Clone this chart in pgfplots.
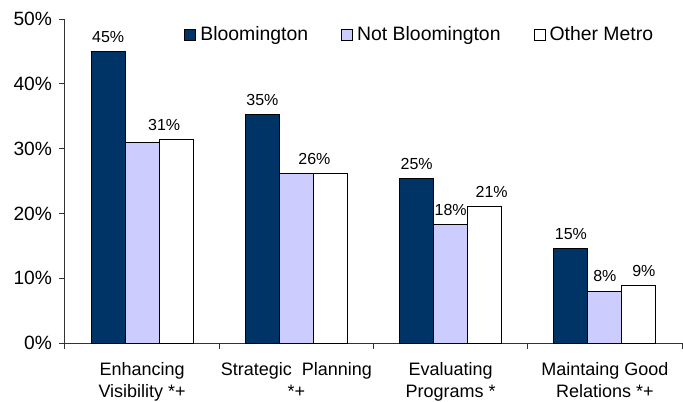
\documentclass[border=0pt]{standalone}
\usepackage{pgfplots}
\usepackage{pgfplotstable}
\pgfplotsset{compat=1.18}
\usepackage{fontspec}
\setmainfont{Liberation Sans}
\definecolor{navy}{RGB}{0,51,102}
\definecolor{lav}{RGB}{204,204,255}

\pgfplotstableread{
x y
0 45.0
1 35.2
2 25.4
3 14.6
}\bloom
\pgfplotstableread{
x y
0 31.0
1 26.1
2 18.3
3 8.0
}\notbloom
\pgfplotstableread{
x y
0 31.4
1 26.1
2 21.1
3 8.8
}\othermetro
\pgfplotstableread{
x y
2 18.3
3 8.0
}\notbloomlab
\pgfplotstableread{
x y dx
0 31.4 -6
1 26.1 -8
2 21.1 3.5
3 8.8 2.5
}\otherlab

\begin{document}
\begin{tikzpicture}
\useasboundingbox (-32.5pt,-29pt) rectangle (309pt,171.5pt);
\begin{axis}[
  at={(0,0)}, anchor=south west,
  scale only axis, width=308.5pt, height=162pt,
  xmin=-0.5, xmax=3.5, ymin=0, ymax=50,
  axis lines=left, axis line style={-, black!80, line width=0.5pt},
  ybar, bar width=17pt,
  xtick={-0.5,0.5,1.5,2.5,3.5}, x tick label as interval,
  xticklabels={{Enhancing\\Visibility *+},{Strategic~~Planning\\*+},{Evaluating\\Programs *},{Maintaing Good\\Relations *+}},
  x tick label style={align=center, font=\fontsize{9}{11}\selectfont, yshift=-3pt},
  ytick={0,10,20,30,40,50},
  yticklabel={\pgfmathprintnumber{\tick}\%},
  y tick label style={font=\fontsize{9.6}{11}\selectfont},
  /pgf/number format/assume math mode=true,
  tick align=outside, major tick length=3pt,
  tick style={black!80, line width=0.5pt},
  nodes near coords={\pgfmathprintnumber[fixed,precision=0]{\pgfplotspointmeta}\%},
  nodes near coords style={font=\fontsize{8}{9.6}\selectfont, anchor=south, yshift=1pt, text=black},
  legend image code/.code={\draw[#1] (0pt,-2.75pt) rectangle (5.5pt,2.75pt);},
  legend style={at={(0.183,0.951)}, anchor=west, draw=none, fill=none,
    legend columns=-1, font=\fontsize{9.7}{11}\selectfont,
    /tikz/every even column/.append style={column sep=14.5pt}},
]
\addplot[bar shift=-17pt, fill=navy, draw=black, line width=0.5pt] table[x=x,y=y] {\bloom};
\addplot[bar shift=0pt, fill=lav, draw=black, line width=0.5pt, nodes near coords={}] table[x=x,y=y] {\notbloom};
\addplot[bar shift=17pt, fill=white, draw=black, line width=0.5pt, nodes near coords={}] table[x=x,y=y] {\othermetro};
\addplot[bar shift=0pt, draw=none, fill=none, forget plot] table[x=x,y=y] {\notbloomlab};
\addplot[bar shift=17pt, draw=none, fill=none, forget plot,
  visualization depends on={\thisrow{dx} \as \dx},
  every node near coord/.append style={xshift=\dx*1pt}] table[x=x,y=y] {\otherlab};
\legend{Bloomington, Not Bloomington, Other Metro}
\end{axis}
\end{tikzpicture}
\end{document}
